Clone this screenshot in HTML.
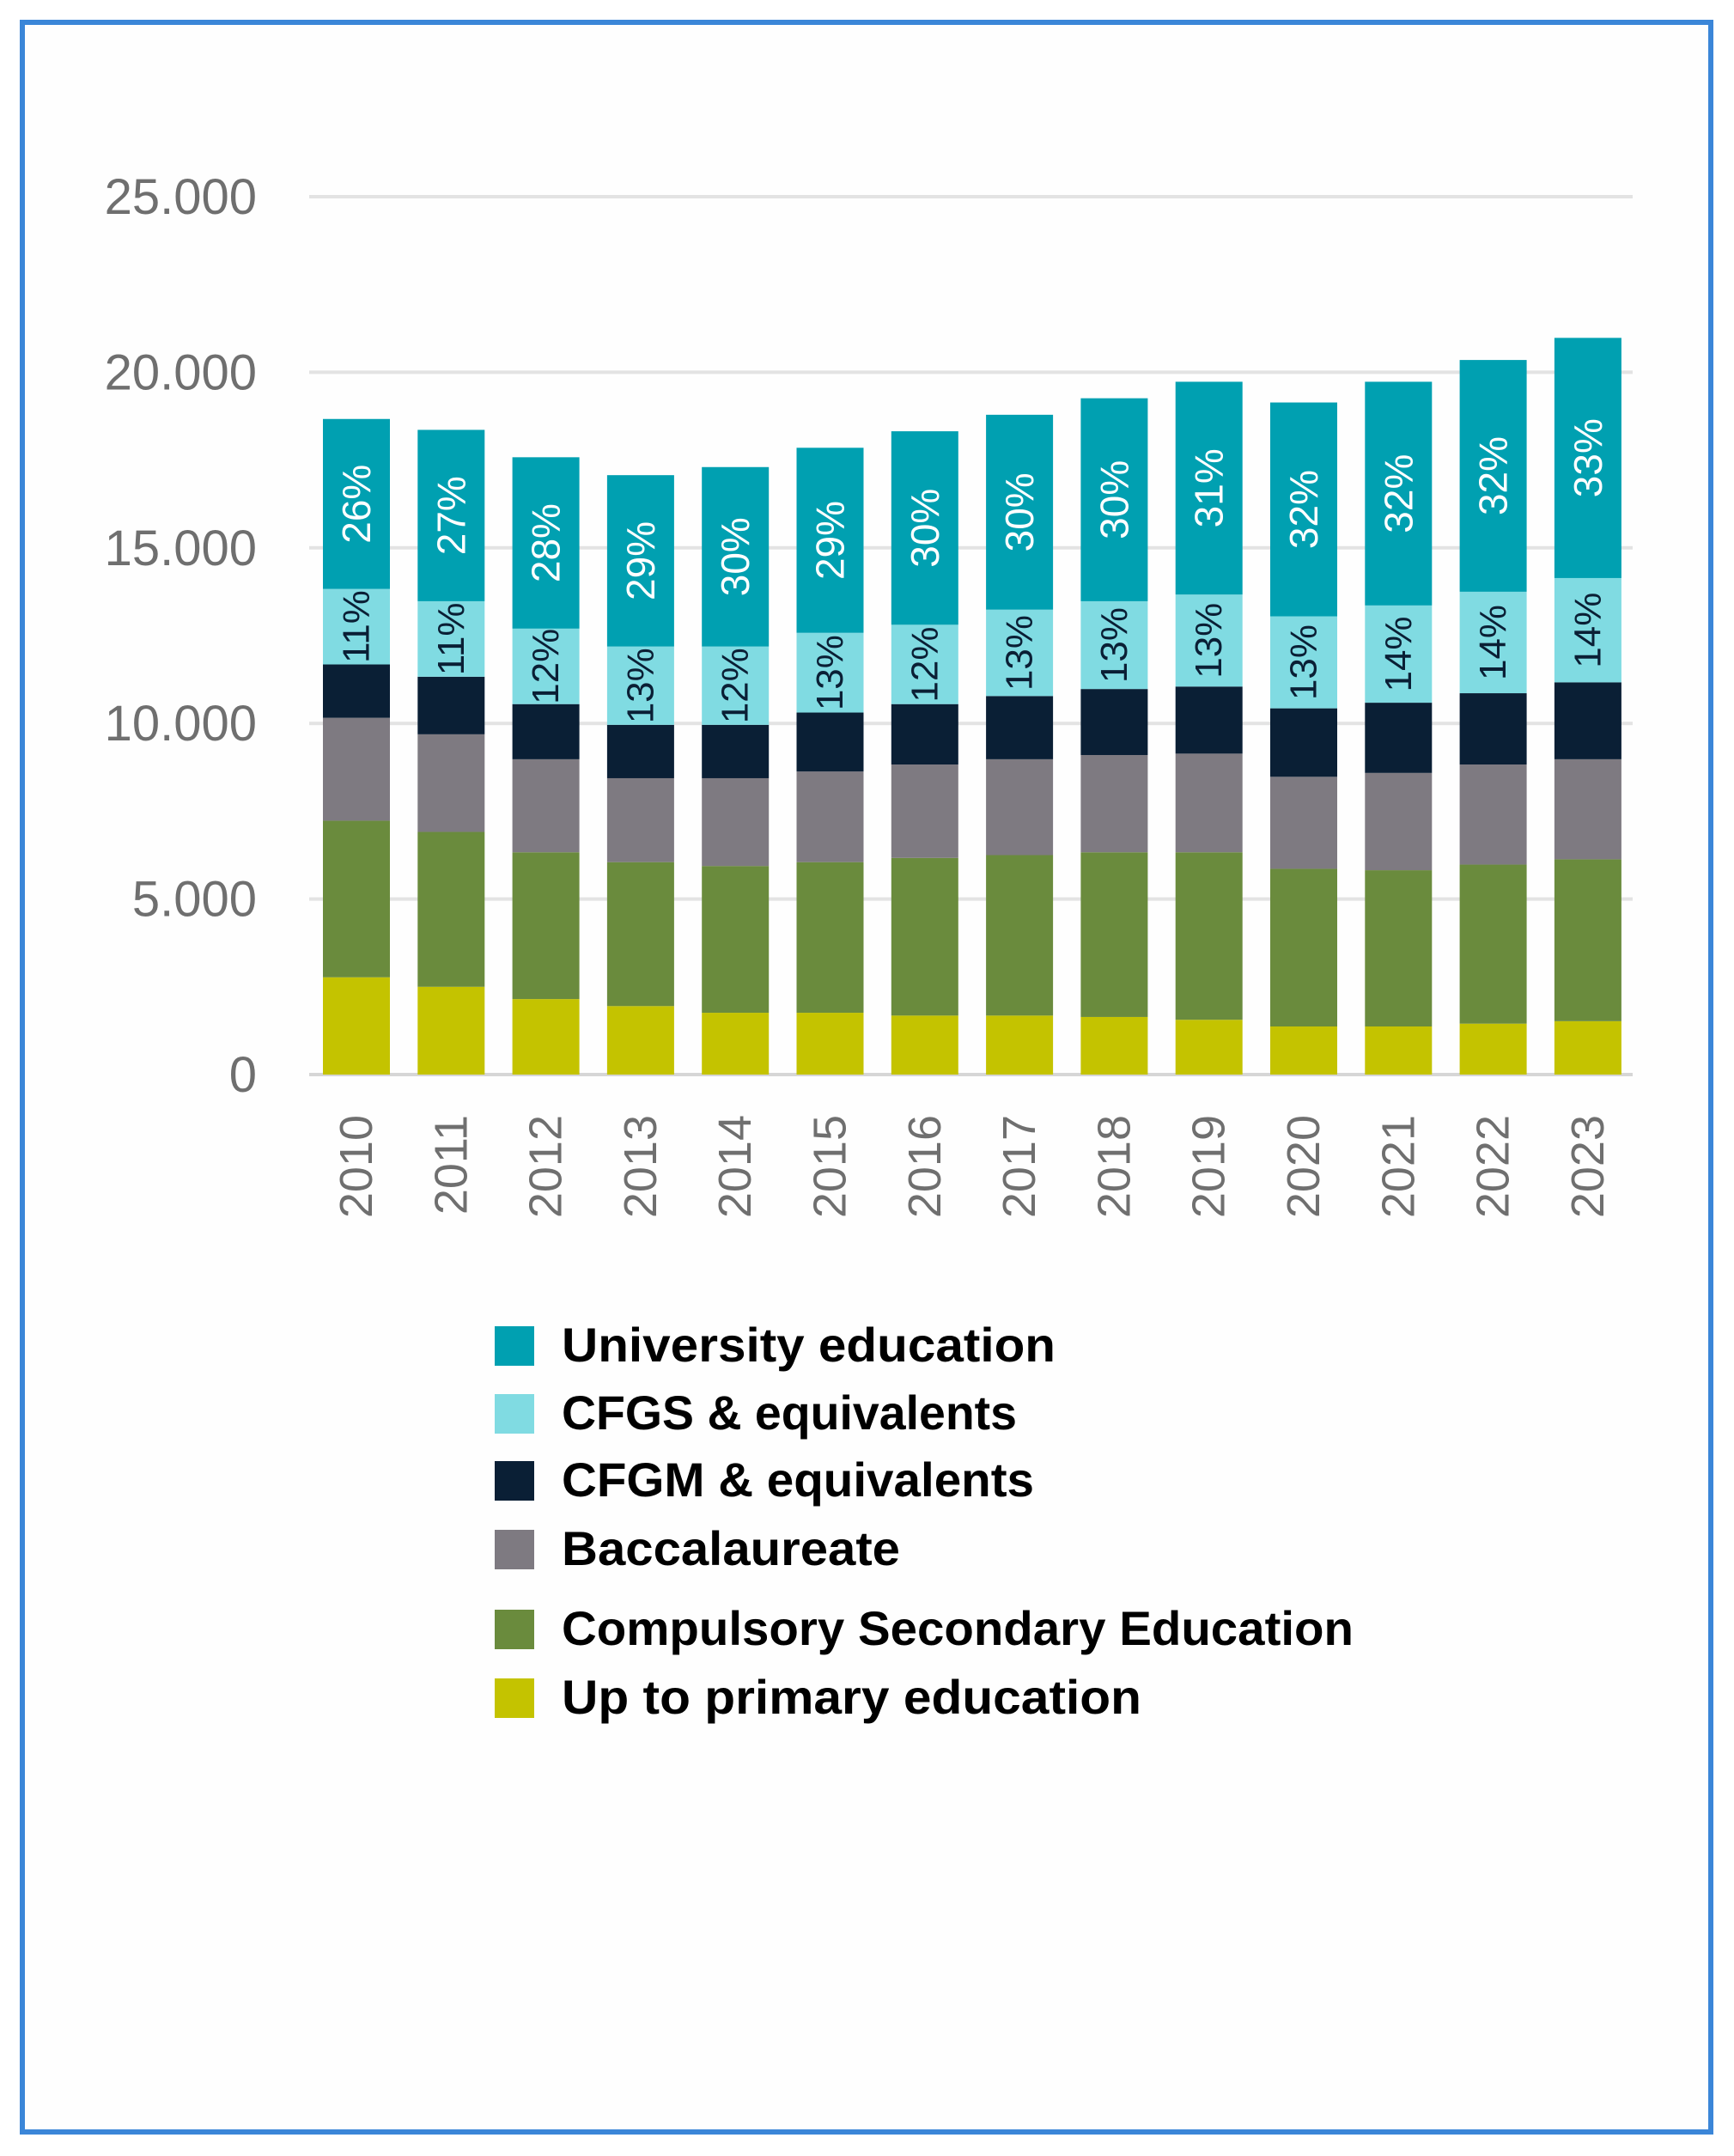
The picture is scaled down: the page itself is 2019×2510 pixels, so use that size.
<!DOCTYPE html>
<html><head><meta charset="utf-8"><style>
html,body{margin:0;padding:0;background:#fff}
svg{display:block}
</style></head><body>
<svg id="chart" width="2019" height="2510" viewBox="0 0 2019 2510" xmlns="http://www.w3.org/2000/svg" font-family="Liberation Sans, sans-serif">
<rect x="26" y="26" width="1966" height="2456" fill="#fefefe" stroke="#3b86d8" stroke-width="6"/>
<g id="grid"></g><g id="bars"></g><g id="labels"></g><g id="legend"></g>
</svg>
<script>
const years=["2010","2011","2012","2013","2014","2015","2016","2017","2018","2019","2020","2021","2022","2023"];
const primary=[2770,2500,2150,1950,1760,1760,1680,1680,1640,1560,1370,1370,1450,1520];
const cse=[4460,4410,4180,4100,4180,4290,4490,4570,4690,4770,4490,4450,4530,4610];
const bac=[2930,2780,2650,2390,2500,2580,2660,2730,2770,2810,2620,2770,2850,2850];
const cfgm=[1520,1640,1570,1520,1520,1680,1720,1800,1880,1910,1950,2000,2030,2190];
const cfgs=[2150,2150,2150,2230,2230,2270,2260,2460,2500,2620,2620,2770,2890,2970];
const univ=[4840,4880,4880,4880,5110,5270,5510,5550,5780,6060,6090,6370,6600,6840];
const cfgsPct=["11%","11%","12%","13%","12%","13%","12%","13%","13%","13%","13%","14%","14%","14%"];
const univPct=["26%","27%","28%","29%","30%","29%","30%","30%","30%","31%","32%","32%","32%","33%"];
const yTicks=[0,5000,10000,15000,20000,25000];
const yTickLabels=["0","5.000","10.000","15.000","20.000","25.000"];
const seriesNames=["University education","CFGS & equivalents","CFGM & equivalents","Baccalaureate","Compulsory Secondary Education","Up to primary education"];

const NS="http://www.w3.org/2000/svg";
const colors={primary:"#c4c300",cse:"#6a8b3d",bac:"#7e7a81",cfgm:"#0a1f35",cfgs:"#80dbe2",univ:"#00a0b1"};
const y0=1251, yPer=(1251-229)/25000;
function Y(v){return y0-v*yPer;}
const barW=78, x0=376, step=110.3;
function X(i){return x0+i*step;}
function mk(tag,attrs,parent){const e=document.createElementNS(NS,tag);for(const k in attrs)e.setAttribute(k,attrs[k]);parent.appendChild(e);return e;}
const grid=document.getElementById('grid'),bars=document.getElementById('bars'),labels=document.getElementById('labels'),legend=document.getElementById('legend');
yTicks.forEach((t,i)=>{
  const l=mk('line',{x1:360,x2:1901,y1:Y(t),y2:Y(t),stroke:i==0?'#d6d6d6':'#e3e3e3','stroke-width':4},grid);
  
  
  const tx=mk('text',{x:299,y:Y(t)+20,'text-anchor':'end','font-size':58,fill:'#6f6f6f'},grid);
  tx.textContent=yTickLabels[i];
  
  
});
const order=[["primary",primary],["cse",cse],["bac",bac],["cfgm",cfgm],["cfgs",cfgs],["univ",univ]];
years.forEach((yr,i)=>{
  let base=0;const x=X(i);const tops={};
  order.forEach(([k,arr])=>{
    const v=arr[i];
    const r=mk('rect',{x:x,y:Y(base+v),width:barW,height:Y(base)-Y(base+v),fill:colors[k]},bars);
    
    
    tops[k]=[base,base+v];base+=v;
  });
  const cx=x+barW/2;
  let cy=(Y(tops.cfgs[0])+Y(tops.cfgs[1]))/2;
  let t=mk('text',{x:cx,y:cy,'text-anchor':'middle','dominant-baseline':'central','font-size':44,fill:'#0a1f35',transform:`rotate(-90 ${cx} ${cy})`},labels);
  t.textContent=cfgsPct[i];
  
  
  cy=(Y(tops.univ[0])+Y(tops.univ[1]))/2;
  t=mk('text',{x:cx,y:cy,'text-anchor':'middle','dominant-baseline':'central','font-size':46,fill:'#ffffff',transform:`rotate(-90 ${cx} ${cy})`},labels);
  t.textContent=univPct[i];
  
  
  const ly=1298;
  t=mk('text',{x:cx,y:ly,'text-anchor':'end','dominant-baseline':'central','font-size':54,fill:'#6f6f6f',transform:`rotate(-90 ${cx} ${ly})`},labels);
  t.textContent=yr;
  
  
});
const legCols=[colors.univ,colors.cfgs,colors.cfgm,colors.bac,colors.cse,colors.primary];
const legY=[1566,1645,1723,1803,1896,1976];
const legW=[575,530,550,394,922,675];
seriesNames.forEach((n,i)=>{
  const r=mk('rect',{x:576,y:legY[i]-22,width:46,height:46,fill:legCols[i]},legend);
  
  
  const t=mk('text',{x:654,y:legY[i]+19,'font-size':56,'font-weight':'bold',fill:'#000',textLength:legW[i],lengthAdjust:'spacingAndGlyphs'},legend);
  t.textContent=n;
  
  
});
</script>
</body></html>
